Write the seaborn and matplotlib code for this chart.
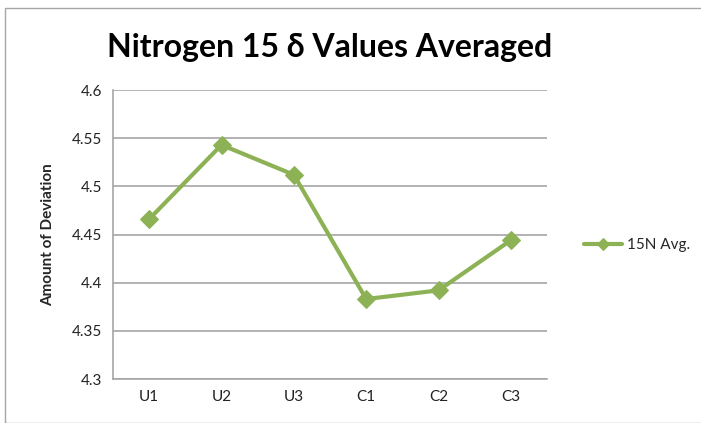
import matplotlib
matplotlib.use("Agg")
import matplotlib.pyplot as plt
import seaborn as sns
import pandas as pd
from matplotlib.patches import Rectangle

categories = ["U1", "U2", "U3", "C1", "C2", "C3"]
values = [4.466, 4.543, 4.512, 4.383, 4.392, 4.444]
series_name = "15N Avg."
yticks = [4.3, 4.35, 4.4, 4.45, 4.5, 4.55, 4.6]
ytick_labels = ["4.3", "4.35", "4.4", "4.45", "4.5", "4.55", "4.6"]

sns.set_style("white")
plt.rcParams['font.family'] = ['Lato', 'DejaVu Sans']

df = pd.DataFrame({"cat": categories, "val": values, "series": series_name})

fig = plt.figure(figsize=(7.01, 4.23), dpi=100)
ax = fig.add_axes([113/701, 1-379/423, (547-113)/701, (379-90)/423])

green = "#8DB255"
sns.lineplot(data=df, x="cat", y="val", hue="series", palette=[green], ax=ax,
             marker="D", markersize=9, linewidth=3, markeredgecolor=green, sort=False)

ax.set_xlim(-0.5, 5.5)
ax.set_ylim(4.3, 4.6)
ax.set_yticks(yticks)
ax.set_yticklabels(ytick_labels)
ax.yaxis.grid(True, color="#A6A6A6", linewidth=1.2)
ax.xaxis.grid(False)
for s in ["top", "right"]:
    ax.spines[s].set_visible(False)
for s in ["left", "bottom"]:
    ax.spines[s].set_color("#A6A6A6")
    ax.spines[s].set_linewidth(1.2)
ax.tick_params(axis="both", labelsize=11, colors="#333333", length=0, pad=8)
for lab in ax.get_xticklabels() + ax.get_yticklabels():
    lab.set_color("#222222")
ax.set_xlabel("")
ax.set_ylabel("Amount of Deviation", fontsize=11, fontweight="bold", labelpad=12)

leg = ax.legend(loc="center left", bbox_to_anchor=(570/701, 1-245/423), bbox_transform=fig.transFigure,
                frameon=False, fontsize=11, handlelength=2.5, handletextpad=0.3)
for h in leg.legend_handles:
    h.set_markersize(6)

fig.text(330/701, 1-47/423, "Nitrogen 15 δ Values Averaged", ha="center", va="center",
         fontsize=23, fontweight="bold", color="black")

fig.patches.append(Rectangle((5/701, 0), 1, 1-8/423, transform=fig.transFigure,
                             fill=False, edgecolor="#A6A6A6", linewidth=1))

fig.savefig("out.png", dpi=100)
